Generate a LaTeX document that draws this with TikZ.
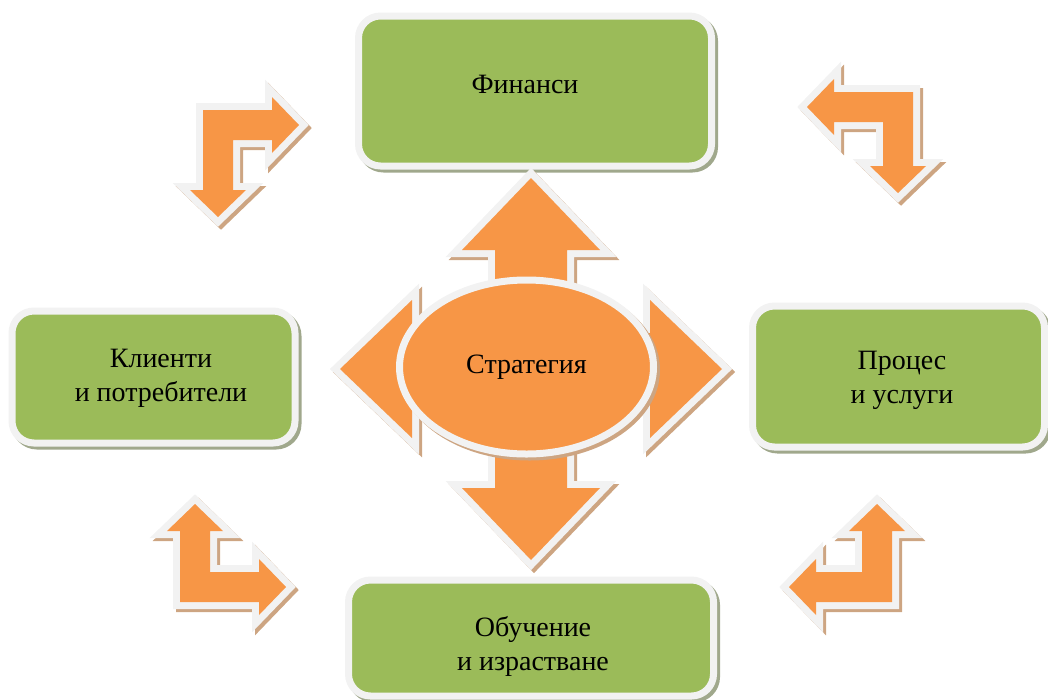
\documentclass[tikz,border=0pt]{standalone}
\usepackage{fontspec}
\setmainfont{Liberation Serif}
\usetikzlibrary{shapes.geometric,shadows}

\definecolor{arroworange}{RGB}{247,150,70}
\definecolor{boxgreen}{RGB}{155,187,89}
\definecolor{rimgray}{RGB}{242,242,242}
\definecolor{arrowshadow}{RGB}{205,165,130}
\definecolor{boxshadow}{RGB}{160,168,140}

% arm lengths: #1 horizontal, #2 vertical
\newcommand\bentarrow[2]{(0,0) -- (#1,0) -- (#1,-13) -- (#1+27,15) -- (#1,43) -- (#1,30) -- (30,30) -- (30,#2) -- (43,#2) -- (15,#2+27) -- (-13,#2) -- (0,#2) -- cycle}
\newcommand\quadarrow{(0,-191) -- (69,-119) -- (36,-119) -- (36,-36) -- (119,-36) -- (119,-69) -- (191,0) -- (119,69) -- (119,36) -- (36,36) -- (36,119) -- (69,119) -- (0,191) -- (-69,119) -- (-36,119) -- (-36,36) -- (-119,36) -- (-119,69) -- (-191,0) -- (-119,-69) -- (-119,-36) -- (-36,-36) -- (-36,-119) -- (-69,-119) -- cycle}

\tikzset{
	lbl/.style={font=\fontsize{28}{34}\selectfont, align=center},
	greenbox/.style={rectangle, rounded corners=22pt, fill=boxgreen, draw=rimgray, line width=7pt, inner sep=0pt,
		drop shadow={shadow xshift=3pt, shadow yshift=-3pt, fill=boxshadow, draw=boxshadow, line width=7pt, opacity=1}},
	blockarrow/.style={drop shadow={shadow xshift=3pt, shadow yshift=-3pt, fill=arrowshadow, draw=arrowshadow, line width=14pt, opacity=1},
		preaction={fill=rimgray, draw=rimgray, line width=14pt}, fill=arroworange},
}

\begin{document}
\begin{tikzpicture}[x=1pt,y=-1pt]
			\useasboundingbox (0,0) rectangle (1048,699);
			\clip (0,0) rectangle (1048,699);

			\node[greenbox, minimum width=353pt, minimum height=150pt] (finbox) at (535,91) {};
			\node[greenbox, minimum width=283pt, minimum height=132pt] (klibox) at (153.5,377) {};
			\node[greenbox, minimum width=292pt, minimum height=141pt] (probox) at (898.5,376.5) {};
			\node[greenbox, minimum width=365pt, minimum height=116pt] (obubox) at (531,638) {};

			\node[lbl, anchor=base] (fin) at (525,93) {Финанси};
			\node[lbl] (kli) at (161,378) {Клиенти\\и потребители};
			\node[lbl] (pro) at (902,380) {Процес\\и услуги};
			\node[lbl] (obu) at (533,646) {Обучение\\и израстване};

			\begin{scope}[shift={(203,110)}]
				\path[blockarrow] \bentarrow{69}{80};
			\end{scope}
			\begin{scope}[shift={(913,92)}, xscale=-1]
				\path[blockarrow] \bentarrow{79}{74};
			\end{scope}
			\begin{scope}[shift={(180,602)}, yscale=-1]
				\path[blockarrow] \bentarrow{79}{71};
			\end{scope}
			\begin{scope}[shift={(892,602)}, xscale=-1, yscale=-1]
				\path[blockarrow] \bentarrow{76}{71};
			\end{scope}

			\begin{scope}[shift={(531,369)}]
				\path[blockarrow] \quadarrow;
			\end{scope}

			\node[ellipse, minimum width=254pt, minimum height=174pt, inner sep=0pt, fill=arroworange, draw=rimgray, line width=7pt,
				drop shadow={shadow xshift=3pt, shadow yshift=-3pt, fill=arrowshadow, draw=arrowshadow, line width=7pt, opacity=1},
				lbl] (strat) at (526.5,367) {Стратегия};
		\end{tikzpicture}
\end{document}
